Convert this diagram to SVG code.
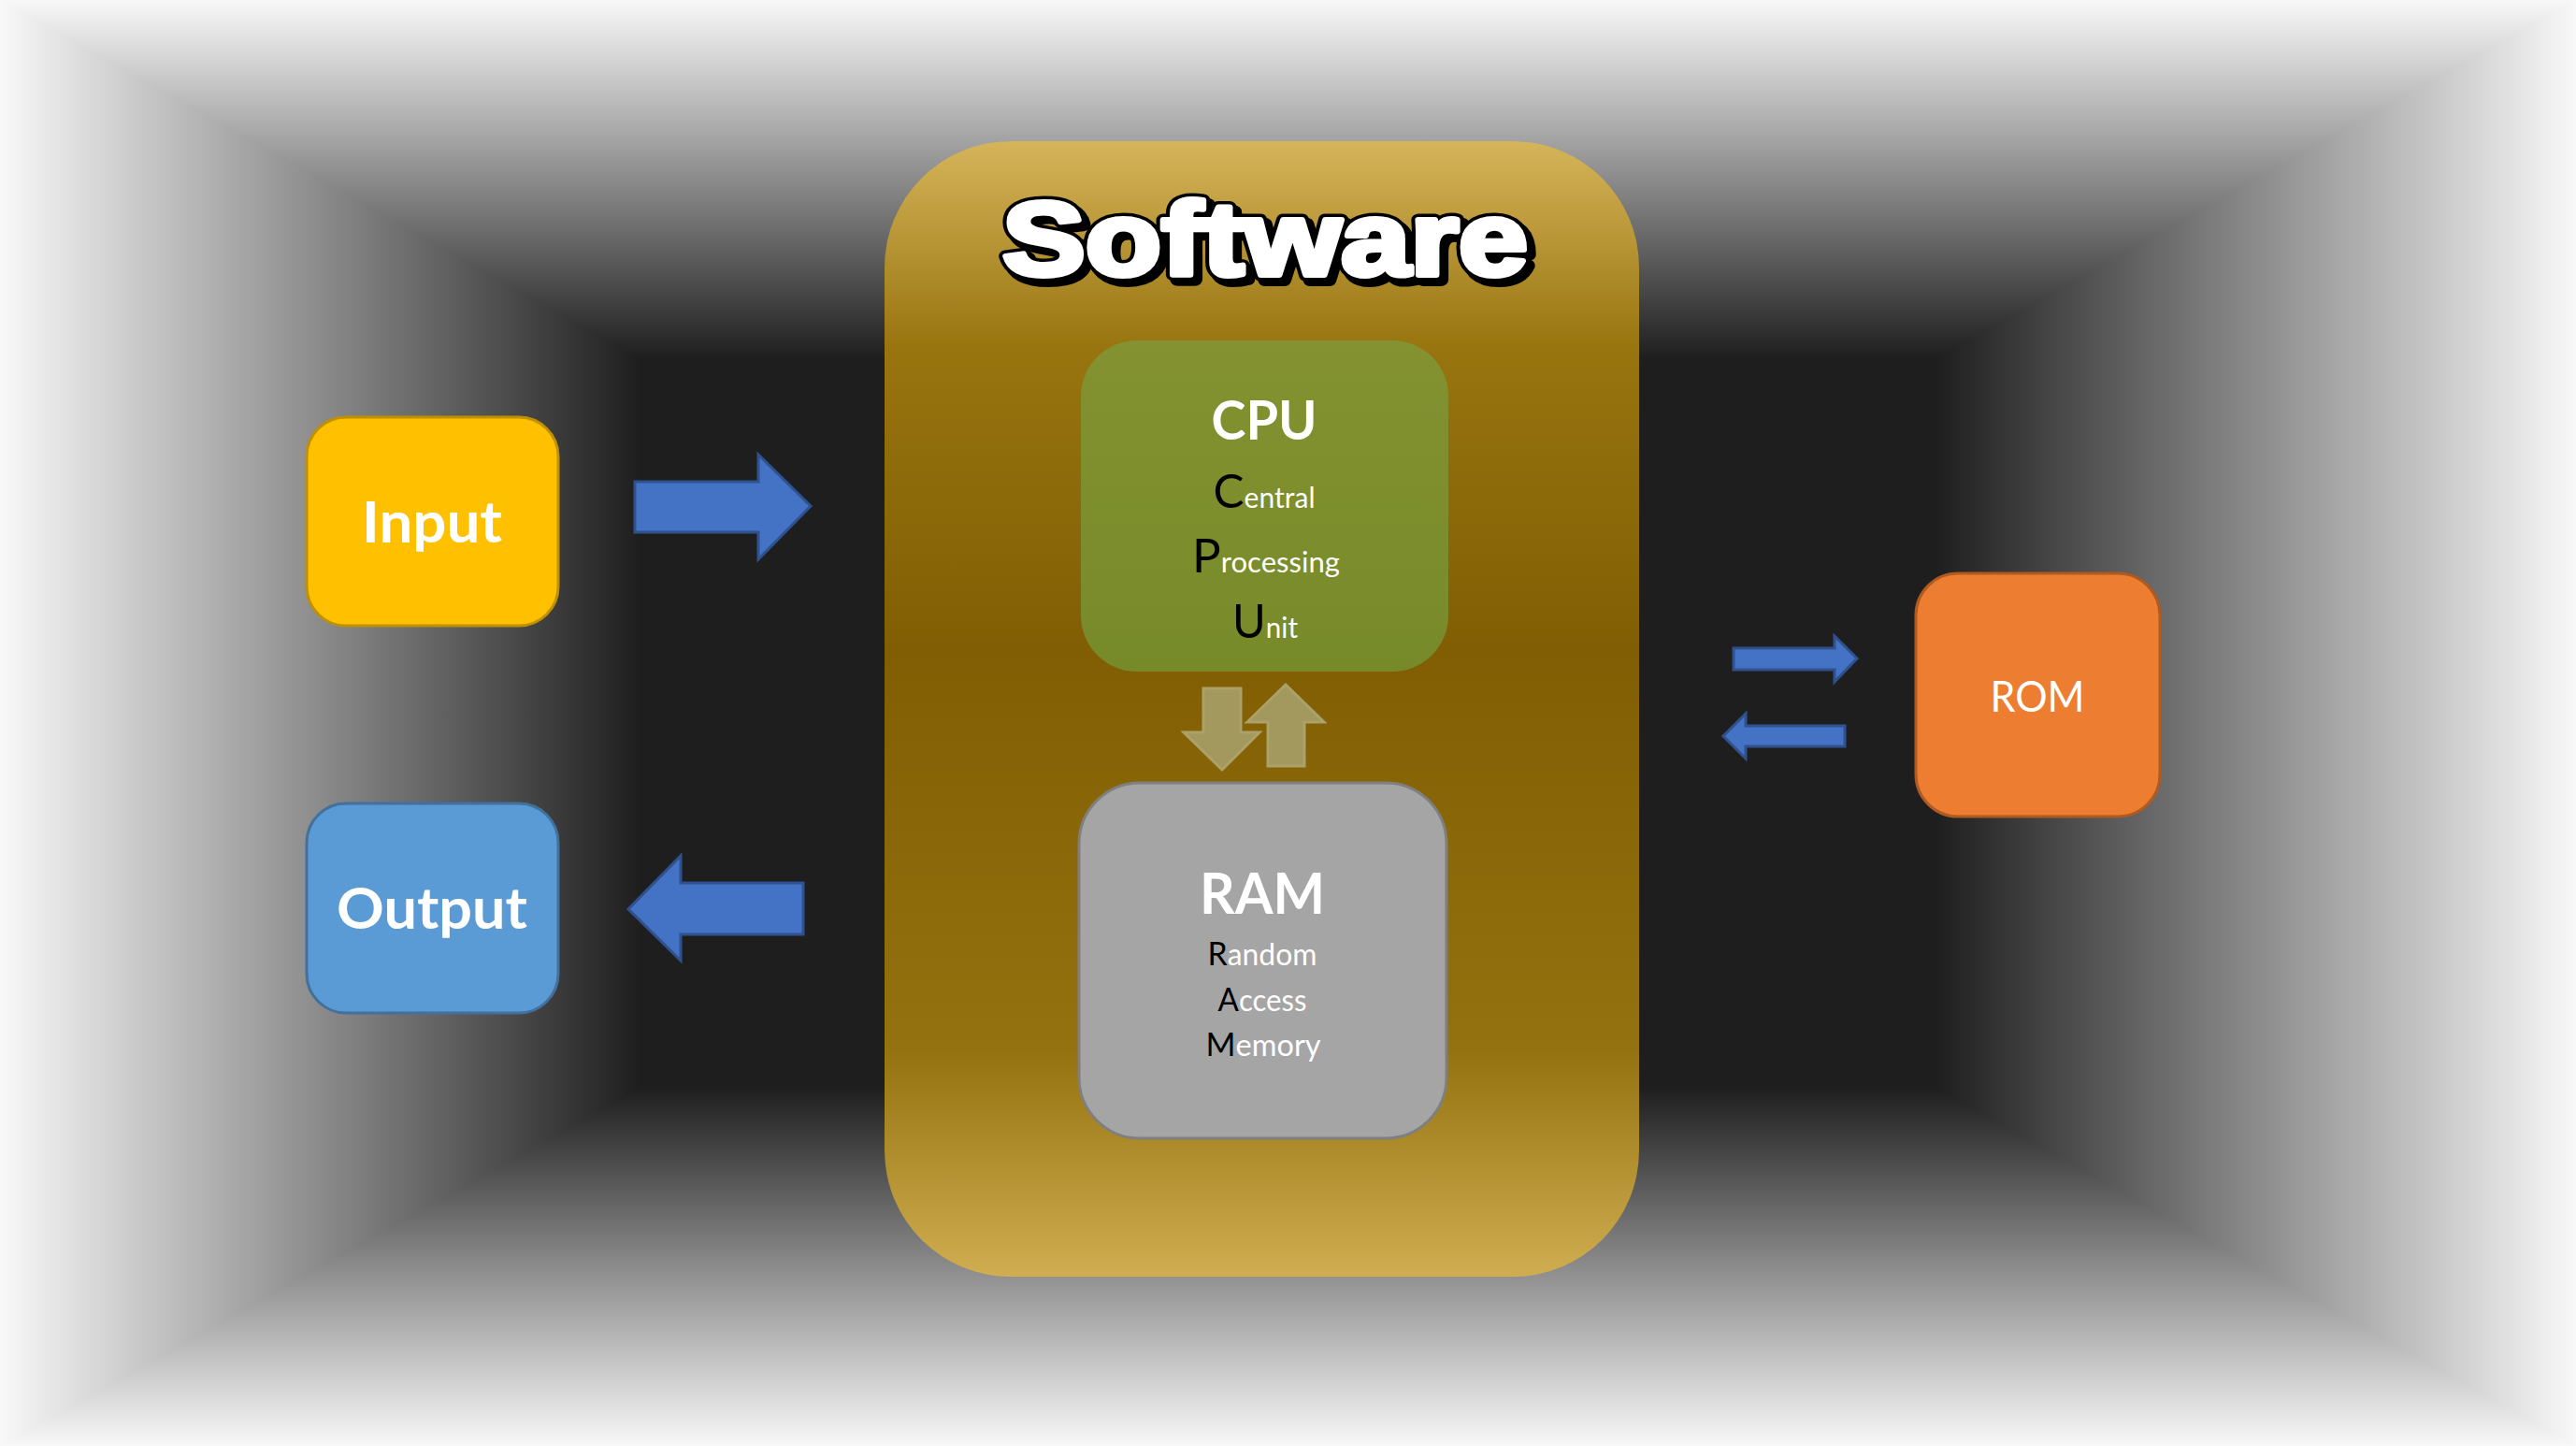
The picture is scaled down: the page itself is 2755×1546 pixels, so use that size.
<svg xmlns="http://www.w3.org/2000/svg" width="2755" height="1546" viewBox="0 0 2755 1546">
<defs>
<linearGradient id="gTop" gradientUnits="userSpaceOnUse" x1="0" y1="0" x2="0" y2="384"><stop offset="0" stop-color="#f8f8f8"/><stop offset="1" stop-color="#1e1e1e"/></linearGradient>
<linearGradient id="gBot" gradientUnits="userSpaceOnUse" x1="0" y1="1546" x2="0" y2="1162"><stop offset="0" stop-color="#f8f8f8"/><stop offset="1" stop-color="#1e1e1e"/></linearGradient>
<linearGradient id="gLeft" gradientUnits="userSpaceOnUse" x1="0" y1="0" x2="685" y2="0"><stop offset="0" stop-color="#f8f8f8"/><stop offset="1" stop-color="#1e1e1e"/></linearGradient>
<linearGradient id="gRight" gradientUnits="userSpaceOnUse" x1="2755" y1="0" x2="2070" y2="0"><stop offset="0" stop-color="#f8f8f8"/><stop offset="1" stop-color="#1e1e1e"/></linearGradient>
<linearGradient id="gSoft" x1="0" y1="0" x2="0" y2="1">
<stop offset="0" stop-color="#d6b45a"/><stop offset="0.18" stop-color="#98750f"/><stop offset="0.45" stop-color="#815e03"/><stop offset="0.8" stop-color="#94720f"/><stop offset="1" stop-color="#d0ad50"/>
</linearGradient>
<linearGradient id="gCpu" x1="0" y1="0" x2="0" y2="1"><stop offset="0" stop-color="#849231"/><stop offset="1" stop-color="#778a2a"/></linearGradient>
<style>
.lt{font-family:Lato,"Open Sans","Liberation Sans",sans-serif;text-anchor:middle}
.b{font-weight:bold;fill:#ffffff}
.big{fill:#000000}
.sm{fill:#ffffff}
.blue{fill:#4472c4;stroke:#2f528f;stroke-width:3}
.tan{fill:#a3995f;stroke:#aca269;stroke-width:3}
.sw{font-family:"Liberation Sans",Arial,sans-serif;font-weight:bold;font-size:112px;text-anchor:middle}
</style>
</defs>
<g id="background">
<rect x="0" y="0" width="2755" height="1546" fill="#1e1e1e"/>
<polygon points="0,0 2755,0 2070,384 685,384" fill="url(#gTop)" stroke="url(#gTop)" stroke-width="2"/>
<polygon points="0,1546 2755,1546 2070,1162 685,1162" fill="url(#gBot)" stroke="url(#gBot)" stroke-width="2"/>
<polygon points="0,0 685,384 685,1162 0,1546" fill="url(#gLeft)" stroke="url(#gLeft)" stroke-width="2"/>
<polygon points="2755,0 2070,384 2070,1162 2755,1546" fill="url(#gRight)" stroke="url(#gRight)" stroke-width="2"/>
</g>
<g id="node-software">
<rect x="946" y="151" width="807" height="1214" rx="135" ry="135" fill="url(#gSoft)"/>
<text class="sw" x="1358" y="299" textLength="562" lengthAdjust="spacingAndGlyphs" fill="#000" stroke="#000" stroke-width="14" stroke-linejoin="round">Software</text>
<text class="sw" x="1353" y="294" textLength="562" lengthAdjust="spacingAndGlyphs" fill="#000" stroke="#000" stroke-width="13" stroke-linejoin="round">Software</text>
<text class="sw" x="1353" y="294" textLength="562" lengthAdjust="spacingAndGlyphs" fill="#fff" stroke="#fff" stroke-width="6" stroke-linejoin="round">Software</text>
</g>
<g id="node-cpu">
<rect x="1156" y="364" width="393" height="354" rx="60" ry="60" fill="url(#gCpu)"/>
<text class="lt b" x="1352" y="470" font-size="58" textLength="113" lengthAdjust="spacingAndGlyphs">CPU</text>
<text class="lt" x="1352" y="543" textLength="109" lengthAdjust="spacingAndGlyphs"><tspan class="big" font-size="51">C</tspan><tspan class="sm" font-size="31">entral</tspan></text>
<text class="lt" x="1354" y="612" textLength="158" lengthAdjust="spacingAndGlyphs"><tspan class="big" font-size="51">P</tspan><tspan class="sm" font-size="31">rocessing</tspan></text>
<text class="lt" x="1353" y="682" textLength="70" lengthAdjust="spacingAndGlyphs"><tspan class="big" font-size="51">U</tspan><tspan class="sm" font-size="31">nit</tspan></text>
</g>
<g id="node-ram">
<rect x="1154" y="837" width="393" height="380" rx="65" ry="65" fill="#a5a5a5" stroke="#7f7f7f" stroke-width="3"/>
<text class="lt b" x="1350" y="977" font-size="61" textLength="134" lengthAdjust="spacingAndGlyphs">RAM</text>
<text class="lt" x="1350" y="1032" textLength="117" lengthAdjust="spacingAndGlyphs"><tspan class="big" font-size="34">R</tspan><tspan class="sm" font-size="32">andom</tspan></text>
<text class="lt" x="1350" y="1081" textLength="95" lengthAdjust="spacingAndGlyphs"><tspan class="big" font-size="34">A</tspan><tspan class="sm" font-size="32">ccess</tspan></text>
<text class="lt" x="1351" y="1129" textLength="123" lengthAdjust="spacingAndGlyphs"><tspan class="big" font-size="34">M</tspan><tspan class="sm" font-size="32">emory</tspan></text>
</g>
<g id="node-input">
<rect x="328" y="446" width="269" height="223" rx="42" ry="42" fill="#ffc000" stroke="#bf9000" stroke-width="3"/>
<text class="lt b" x="462" y="580" font-size="62" textLength="150" lengthAdjust="spacingAndGlyphs">Input</text>
</g>
<g id="node-output">
<rect x="328" y="859" width="269" height="224" rx="42" ry="42" fill="#5b9bd5" stroke="#41719c" stroke-width="3"/>
<text class="lt b" x="462" y="993" font-size="62" textLength="204" lengthAdjust="spacingAndGlyphs">Output</text>
</g>
<g id="node-rom">
<rect x="2049" y="613" width="261" height="260" rx="45" ry="45" fill="#ed7d31" stroke="#ae5a21" stroke-width="3"/>
<text class="lt" x="2179" y="761" font-size="46" fill="#ffffff" textLength="101" lengthAdjust="spacingAndGlyphs">ROM</text>
</g>
<g id="connectors">
<polygon class="blue" points="679,515 811,515 811,486 867,541 811,598 811,569 679,569"/>
<polygon class="blue" points="859,944 728,944 728,915 672,972 728,1027 728,999 859,999"/>
<polygon class="blue" points="1854,693 1962,693 1962,680 1986,704 1962,729 1962,716 1854,716"/>
<polygon class="blue" points="1973,776 1867,776 1867,763 1843,787 1867,811 1867,798 1973,798"/>
<polygon class="tan" points="1287,736 1327,736 1327,783 1347,783 1307,823 1266,783 1287,783"/>
<polygon class="tan" points="1356,819 1395,819 1395,772 1416,772 1375,732 1334,772 1356,772"/>
</g>
</svg>
